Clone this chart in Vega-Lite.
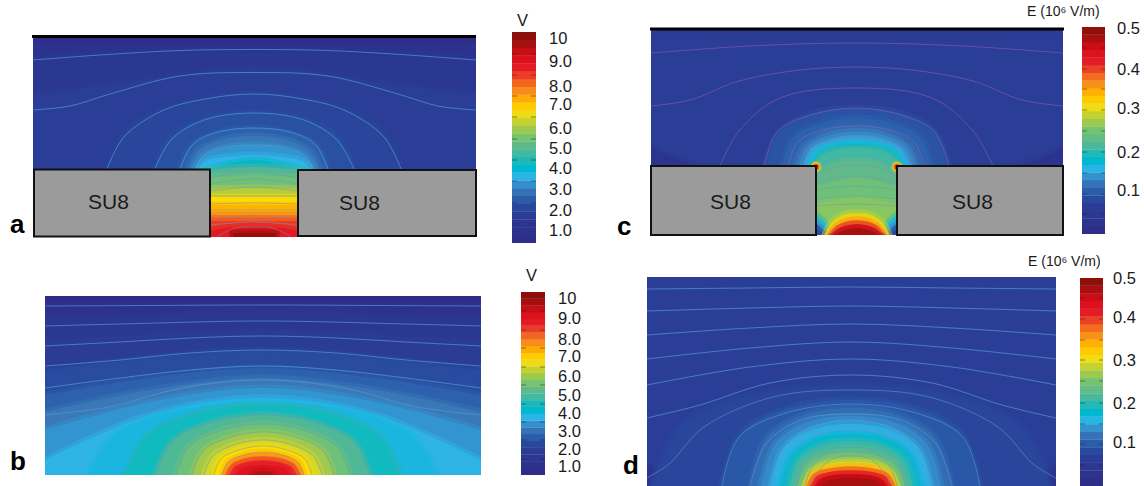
{"$schema":"https://vega.github.io/schema/vega-lite/v6.json","width":1144,"height":486,"padding":0,"autosize":{"type":"none"},"background":"white","config":{"view":{"stroke":null}},
"resolve":{"scale":{"color":"independent","stroke":"independent"}},
"datasets":{
"a":[{"v":0.6,"x":33,"y":37},{"v":0.6,"x":476,"y":37},{"v":1.05,"x":33,"y":44},{"v":1.05,"x":476,"y":44},
{"v":1.5,"x":33,"y":56},{"v":1.5,"x":254,"y":50},{"v":1.5,"x":476,"y":56},
{"v":1.9,"x":33,"y":95},{"v":1.9,"x":110,"y":85},{"v":1.9,"x":254,"y":68},{"v":1.9,"x":398,"y":85},{"v":1.9,"x":476,"y":95},
{"v":2.1,"x":107,"y":169},{"v":2.1,"x":129,"y":128},{"v":2.1,"x":181,"y":104},{"v":2.1,"x":254,"y":94},{"v":2.1,"x":327,"y":104},{"v":2.1,"x":379,"y":128},{"v":2.1,"x":401,"y":169},
{"v":2.3,"x":155,"y":169},{"v":2.3,"x":170,"y":138},{"v":2.3,"x":204,"y":120},{"v":2.3,"x":254,"y":113},{"v":2.3,"x":304,"y":120},{"v":2.3,"x":338,"y":138},{"v":2.3,"x":353,"y":169},
{"v":2.6,"x":180,"y":169},{"v":2.6,"x":191,"y":146},{"v":2.6,"x":217,"y":133},{"v":2.6,"x":254,"y":128},{"v":2.6,"x":291,"y":133},{"v":2.6,"x":317,"y":146},{"v":2.6,"x":328,"y":169},
{"v":3.01,"x":188,"y":169},{"v":3.01,"x":198,"y":151},{"v":3.01,"x":221,"y":140},{"v":3.01,"x":254,"y":136},{"v":3.01,"x":287,"y":140},{"v":3.01,"x":310,"y":151},{"v":3.01,"x":320,"y":169},
{"v":3.3,"x":194,"y":169},{"v":3.3,"x":203,"y":156},{"v":3.3,"x":224,"y":148},{"v":3.3,"x":254,"y":145},{"v":3.3,"x":284,"y":148},{"v":3.3,"x":305,"y":156},{"v":3.3,"x":314,"y":169},
{"v":3.6,"x":198,"y":169},{"v":3.6,"x":206,"y":161},{"v":3.6,"x":226,"y":157},{"v":3.6,"x":254,"y":155},{"v":3.6,"x":282,"y":157},{"v":3.6,"x":302,"y":161},{"v":3.6,"x":310,"y":169},
{"v":4.2,"x":200,"y":172},{"v":4.2,"x":254,"y":160},{"v":4.2,"x":308,"y":172},
{"v":4.9,"x":205,"y":170},{"v":4.9,"x":254,"y":167},{"v":4.9,"x":303,"y":170},
{"v":5.4,"x":205,"y":178},{"v":5.4,"x":254,"y":175},{"v":5.4,"x":303,"y":178},
{"v":6.1,"x":205,"y":189},{"v":6.1,"x":254,"y":188},{"v":6.1,"x":303,"y":189},
{"v":6.8,"x":205,"y":197},{"v":6.8,"x":303,"y":197},
{"v":7.3,"x":205,"y":205},{"v":7.3,"x":303,"y":205},
{"v":8.01,"x":205,"y":215},{"v":8.01,"x":303,"y":215},
{"v":8.5,"x":205,"y":221},{"v":8.5,"x":303,"y":221},
{"v":8.9,"x":205,"y":232},{"v":8.9,"x":225,"y":228},{"v":8.9,"x":254,"y":226},{"v":8.9,"x":283,"y":228},{"v":8.9,"x":303,"y":232},
{"v":9.6,"x":233,"y":234},{"v":9.6,"x":254,"y":231},{"v":9.6,"x":276,"y":234},
{"v":10.2,"x":233,"y":233},{"v":10.2,"x":276,"y":233}],
"b":[{"v":0.6,"x":45,"y":296},{"v":0.6,"x":481,"y":296},{"v":1.05,"x":45,"y":302},{"v":1.05,"x":481,"y":302},
{"v":1.4,"x":45,"y":318},{"v":1.4,"x":150,"y":315},{"v":1.4,"x":263,"y":312},{"v":1.4,"x":376,"y":315},{"v":1.4,"x":481,"y":318},
{"v":1.8,"x":45,"y":340},{"v":1.8,"x":150,"y":335},{"v":1.8,"x":263,"y":330},{"v":1.8,"x":376,"y":335},{"v":1.8,"x":481,"y":340},
{"v":2.2,"x":45,"y":370},{"v":2.2,"x":150,"y":358},{"v":2.2,"x":263,"y":350},{"v":2.2,"x":376,"y":358},{"v":2.2,"x":481,"y":370},
{"v":2.6,"x":45,"y":395},{"v":2.6,"x":150,"y":378},{"v":2.6,"x":263,"y":368},{"v":2.6,"x":376,"y":378},{"v":2.6,"x":481,"y":395},
{"v":3.01,"x":45,"y":412},{"v":3.01,"x":150,"y":390},{"v":3.01,"x":263,"y":378},{"v":3.01,"x":376,"y":390},{"v":3.01,"x":481,"y":412},
{"v":3.3,"x":45,"y":430},{"v":3.3,"x":150,"y":402},{"v":3.3,"x":263,"y":388},{"v":3.3,"x":376,"y":402},{"v":3.3,"x":481,"y":430},
{"v":3.6,"x":45,"y":460},{"v":3.6,"x":150,"y":415},{"v":3.6,"x":263,"y":398},{"v":3.6,"x":376,"y":415},{"v":3.6,"x":481,"y":460},
{"v":3.75,"x":88,"y":475},{"v":3.75,"x":114,"y":435},{"v":3.75,"x":175,"y":411},{"v":3.75,"x":263,"y":402},{"v":3.75,"x":351,"y":411},{"v":3.75,"x":412,"y":435},{"v":3.75,"x":438,"y":475},
{"v":4.3,"x":125,"y":475},{"v":4.3,"x":146,"y":436},{"v":4.3,"x":194,"y":413},{"v":4.3,"x":263,"y":404},{"v":4.3,"x":332,"y":413},{"v":4.3,"x":380,"y":436},{"v":4.3,"x":401,"y":475},
{"v":4.9,"x":156,"y":475},{"v":4.9,"x":172,"y":442},{"v":4.9,"x":210,"y":423},{"v":4.9,"x":263,"y":415},{"v":4.9,"x":316,"y":423},{"v":4.9,"x":354,"y":442},{"v":4.9,"x":370,"y":475},
{"v":5.4,"x":176,"y":475},{"v":5.4,"x":189,"y":447},{"v":5.4,"x":220,"y":431},{"v":5.4,"x":263,"y":424},{"v":5.4,"x":306,"y":431},{"v":5.4,"x":337,"y":447},{"v":5.4,"x":350,"y":475},
{"v":5.9,"x":192,"y":475},{"v":5.9,"x":203,"y":451},{"v":5.9,"x":228,"y":438},{"v":5.9,"x":263,"y":432},{"v":5.9,"x":298,"y":438},{"v":5.9,"x":323,"y":451},{"v":5.9,"x":334,"y":475},
{"v":6.4,"x":204,"y":475},{"v":6.4,"x":213,"y":456},{"v":6.4,"x":234,"y":445},{"v":6.4,"x":263,"y":440},{"v":6.4,"x":292,"y":445},{"v":6.4,"x":313,"y":456},{"v":6.4,"x":322,"y":475},
{"v":6.8,"x":214,"y":475},{"v":6.8,"x":221,"y":459},{"v":6.8,"x":239,"y":450},{"v":6.8,"x":263,"y":446},{"v":6.8,"x":287,"y":450},{"v":6.8,"x":305,"y":459},{"v":6.8,"x":312,"y":475},
{"v":7.3,"x":222,"y":475},{"v":7.3,"x":228,"y":462},{"v":7.3,"x":243,"y":455},{"v":7.3,"x":263,"y":452},{"v":7.3,"x":283,"y":455},{"v":7.3,"x":298,"y":462},{"v":7.3,"x":304,"y":475},
{"v":7.9,"x":225,"y":475},{"v":7.9,"x":231,"y":464},{"v":7.9,"x":244,"y":458},{"v":7.9,"x":263,"y":456},{"v":7.9,"x":282,"y":458},{"v":7.9,"x":295,"y":464},{"v":7.9,"x":301,"y":475},
{"v":8.6,"x":229,"y":475},{"v":8.6,"x":234,"y":467},{"v":8.6,"x":246,"y":462},{"v":8.6,"x":263,"y":460},{"v":8.6,"x":280,"y":462},{"v":8.6,"x":292,"y":467},{"v":8.6,"x":297,"y":475},
{"v":9.1,"x":236,"y":475},{"v":9.1,"x":240,"y":469},{"v":9.1,"x":250,"y":466},{"v":9.1,"x":263,"y":465},{"v":9.1,"x":276,"y":466},{"v":9.1,"x":286,"y":469},{"v":9.1,"x":290,"y":475},
{"v":9.8,"x":251,"y":475},{"v":9.8,"x":253,"y":473},{"v":9.8,"x":257,"y":472},{"v":9.8,"x":263,"y":471},{"v":9.8,"x":269,"y":472},{"v":9.8,"x":273,"y":473},{"v":9.8,"x":275,"y":475}],
"c":[{"v":0.062,"x":651,"y":29},{"v":0.062,"x":1063,"y":29},{"v":0.07,"x":651,"y":45},{"v":0.07,"x":1063,"y":45},
{"v":0.03,"x":651,"y":148},{"v":0.03,"x":668,"y":156},{"v":0.03,"x":700,"y":167},
{"v":0.031,"x":1015,"y":167},{"v":0.031,"x":1047,"y":156},{"v":0.031,"x":1063,"y":148},
{"v":0.09,"x":765,"y":167},{"v":0.09,"x":779,"y":132},{"v":0.09,"x":811,"y":114},{"v":0.09,"x":857,"y":108},{"v":0.09,"x":903,"y":114},{"v":0.09,"x":935,"y":132},{"v":0.09,"x":949,"y":167},
{"v":0.105,"x":782,"y":167},{"v":0.105,"x":793,"y":138},{"v":0.105,"x":820,"y":124},{"v":0.105,"x":857,"y":118},{"v":0.105,"x":894,"y":124},{"v":0.105,"x":921,"y":138},{"v":0.105,"x":932,"y":167},
{"v":0.125,"x":795,"y":167},{"v":0.125,"x":804,"y":146},{"v":0.125,"x":826,"y":133},{"v":0.125,"x":857,"y":128},{"v":0.125,"x":888,"y":133},{"v":0.125,"x":910,"y":146},{"v":0.125,"x":919,"y":167},
{"v":0.145,"x":802,"y":167},{"v":0.145,"x":810,"y":149},{"v":0.145,"x":829,"y":139},{"v":0.145,"x":857,"y":135},{"v":0.145,"x":885,"y":139},{"v":0.145,"x":904,"y":149},{"v":0.145,"x":912,"y":167},
{"v":0.16,"x":807,"y":167},{"v":0.16,"x":814,"y":152},{"v":0.16,"x":832,"y":143},{"v":0.16,"x":857,"y":140},{"v":0.16,"x":882,"y":143},{"v":0.16,"x":900,"y":152},{"v":0.16,"x":907,"y":167},
{"v":0.19,"x":811,"y":167},{"v":0.19,"x":818,"y":154},{"v":0.19,"x":834,"y":146},{"v":0.19,"x":857,"y":144},{"v":0.19,"x":880,"y":146},{"v":0.19,"x":896,"y":154},{"v":0.19,"x":903,"y":167},
{"v":0.215,"x":815,"y":167},{"v":0.215,"x":821,"y":156},{"v":0.215,"x":836,"y":150},{"v":0.215,"x":857,"y":148},{"v":0.215,"x":878,"y":150},{"v":0.215,"x":893,"y":156},{"v":0.215,"x":899,"y":167},
{"v":0.235,"x":814,"y":175},{"v":0.235,"x":835,"y":163},{"v":0.235,"x":857,"y":160},{"v":0.235,"x":878,"y":163},{"v":0.235,"x":899,"y":175},
{"v":0.25,"x":814,"y":188},{"v":0.25,"x":857,"y":178},{"v":0.25,"x":899,"y":188},
{"v":0.265,"x":814,"y":205},{"v":0.265,"x":857,"y":198},{"v":0.265,"x":899,"y":205},
{"v":0.2,"x":816,"y":215},{"v":0.2,"x":824,"y":222},{"v":0.2,"x":834,"y":235},
{"v":0.201,"x":879,"y":235},{"v":0.201,"x":889,"y":222},{"v":0.201,"x":897,"y":215},
{"v":0.157,"x":816,"y":220},{"v":0.157,"x":824,"y":226},{"v":0.157,"x":832,"y":235},
{"v":0.158,"x":881,"y":235},{"v":0.158,"x":889,"y":226},{"v":0.158,"x":897,"y":220},
{"v":0.12,"x":816,"y":224},{"v":0.12,"x":822,"y":229},{"v":0.12,"x":829,"y":235},
{"v":0.121,"x":884,"y":235},{"v":0.121,"x":891,"y":229},{"v":0.121,"x":897,"y":224},
{"v":0.08,"x":816,"y":228},{"v":0.08,"x":821,"y":232},{"v":0.08,"x":826,"y":235},
{"v":0.081,"x":887,"y":235},{"v":0.081,"x":892,"y":232},{"v":0.081,"x":897,"y":228},
{"v":0.3,"x":825,"y":235},{"v":0.3,"x":832,"y":222},{"v":0.3,"x":845,"y":214},{"v":0.3,"x":857,"y":213},{"v":0.3,"x":869,"y":214},{"v":0.3,"x":882,"y":222},{"v":0.3,"x":889,"y":235},
{"v":0.33,"x":828,"y":235},{"v":0.33,"x":835,"y":224},{"v":0.33,"x":846,"y":218},{"v":0.33,"x":857,"y":217},{"v":0.33,"x":868,"y":218},{"v":0.33,"x":879,"y":224},{"v":0.33,"x":886,"y":235},
{"v":0.38,"x":830,"y":235},{"v":0.38,"x":837,"y":226},{"v":0.38,"x":847,"y":221},{"v":0.38,"x":857,"y":220},{"v":0.38,"x":867,"y":221},{"v":0.38,"x":877,"y":226},{"v":0.38,"x":884,"y":235},
{"v":0.43,"x":832,"y":235},{"v":0.43,"x":839,"y":228},{"v":0.43,"x":848,"y":225},{"v":0.43,"x":857,"y":224},{"v":0.43,"x":866,"y":225},{"v":0.43,"x":875,"y":228},{"v":0.43,"x":882,"y":235},
{"v":0.49,"x":835,"y":235},{"v":0.49,"x":842,"y":231},{"v":0.49,"x":850,"y":229},{"v":0.49,"x":857,"y":228},{"v":0.49,"x":864,"y":229},{"v":0.49,"x":872,"y":231},{"v":0.49,"x":879,"y":235}],
"d":[{"v":0.07,"x":647,"y":277},{"v":0.07,"x":1056,"y":277},
{"v":0.03,"x":647,"y":465},{"v":0.03,"x":660,"y":475},{"v":0.03,"x":680,"y":486},
{"v":0.031,"x":1023,"y":486},{"v":0.031,"x":1043,"y":475},{"v":0.031,"x":1056,"y":465},
{"v":0.077,"x":651,"y":486},{"v":0.077,"x":681,"y":425},{"v":0.077,"x":751,"y":395},{"v":0.077,"x":851,"y":385},{"v":0.077,"x":951,"y":395},{"v":0.077,"x":1021,"y":425},{"v":0.077,"x":1051,"y":486},
{"v":0.095,"x":722,"y":486},{"v":0.095,"x":741,"y":434},{"v":0.095,"x":786,"y":409},{"v":0.095,"x":851,"y":400},{"v":0.095,"x":916,"y":409},{"v":0.095,"x":961,"y":434},{"v":0.095,"x":980,"y":486},
{"v":0.115,"x":751,"y":486},{"v":0.115,"x":766,"y":439},{"v":0.115,"x":801,"y":416},{"v":0.115,"x":851,"y":408},{"v":0.115,"x":901,"y":416},{"v":0.115,"x":936,"y":439},{"v":0.115,"x":951,"y":486},
{"v":0.135,"x":761,"y":486},{"v":0.135,"x":775,"y":444},{"v":0.135,"x":806,"y":423},{"v":0.135,"x":851,"y":416},{"v":0.135,"x":896,"y":423},{"v":0.135,"x":927,"y":444},{"v":0.135,"x":941,"y":486},
{"v":0.155,"x":771,"y":486},{"v":0.155,"x":783,"y":449},{"v":0.155,"x":811,"y":430},{"v":0.155,"x":851,"y":424},{"v":0.155,"x":891,"y":430},{"v":0.155,"x":919,"y":449},{"v":0.155,"x":931,"y":486},
{"v":0.18,"x":781,"y":486},{"v":0.18,"x":792,"y":455},{"v":0.18,"x":816,"y":439},{"v":0.18,"x":851,"y":434},{"v":0.18,"x":886,"y":439},{"v":0.18,"x":910,"y":455},{"v":0.18,"x":921,"y":486},
{"v":0.21,"x":789,"y":486},{"v":0.21,"x":798,"y":459},{"v":0.21,"x":820,"y":445},{"v":0.21,"x":851,"y":441},{"v":0.21,"x":882,"y":445},{"v":0.21,"x":904,"y":459},{"v":0.21,"x":913,"y":486},
{"v":0.23,"x":794,"y":486},{"v":0.23,"x":803,"y":463},{"v":0.23,"x":822,"y":452},{"v":0.23,"x":851,"y":448},{"v":0.23,"x":880,"y":452},{"v":0.23,"x":899,"y":463},{"v":0.23,"x":908,"y":486},
{"v":0.27,"x":801,"y":486},{"v":0.27,"x":809,"y":468},{"v":0.27,"x":826,"y":459},{"v":0.27,"x":851,"y":456},{"v":0.27,"x":876,"y":459},{"v":0.27,"x":893,"y":468},{"v":0.27,"x":901,"y":486},
{"v":0.31,"x":805,"y":486},{"v":0.31,"x":812,"y":472},{"v":0.31,"x":828,"y":464},{"v":0.31,"x":851,"y":462},{"v":0.31,"x":874,"y":464},{"v":0.31,"x":890,"y":472},{"v":0.31,"x":897,"y":486},
{"v":0.36,"x":807,"y":486},{"v":0.36,"x":814,"y":474},{"v":0.36,"x":829,"y":468},{"v":0.36,"x":851,"y":466},{"v":0.36,"x":873,"y":468},{"v":0.36,"x":888,"y":474},{"v":0.36,"x":895,"y":486},
{"v":0.41,"x":810,"y":486},{"v":0.41,"x":816,"y":476},{"v":0.41,"x":830,"y":472},{"v":0.41,"x":851,"y":470},{"v":0.41,"x":872,"y":472},{"v":0.41,"x":886,"y":476},{"v":0.41,"x":892,"y":486},
{"v":0.46,"x":814,"y":486},{"v":0.46,"x":820,"y":479},{"v":0.46,"x":832,"y":475},{"v":0.46,"x":851,"y":474},{"v":0.46,"x":870,"y":475},{"v":0.46,"x":882,"y":479},{"v":0.46,"x":888,"y":486},
{"v":0.49,"x":821,"y":486},{"v":0.49,"x":826,"y":481},{"v":0.49,"x":836,"y":479},{"v":0.49,"x":851,"y":478},{"v":0.49,"x":866,"y":479},{"v":0.49,"x":876,"y":481},{"v":0.49,"x":881,"y":486}],
"hot":[{"x":816,"y":167,"v":0.25,"s":170},{"x":897,"y":167,"v":0.251,"s":170},{"x":816,"y":167,"v":0.33,"s":90},{"x":897,"y":167,"v":0.331,"s":90},{"x":816,"y":167,"v":0.39,"s":50},{"x":897,"y":167,"v":0.391,"s":50},{"x":816,"y":167,"v":0.47,"s":20},{"x":897,"y":167,"v":0.471,"s":20}],
"mask":[{"x":27,"x2":33,"y":30,"y2":242},{"x":476,"x2":482,"y":30,"y2":242},{"x":27,"x2":482,"y":237,"y2":242},{"x":27,"x2":482,"y":30,"y2":35.5},
{"x":39,"x2":45,"y":290,"y2":481},{"x":481,"x2":487,"y":290,"y2":481},{"x":39,"x2":487,"y":290,"y2":296},{"x":39,"x2":487,"y":475,"y2":481},
{"x":645,"x2":651,"y":22,"y2":241},{"x":1063,"x2":1069,"y":22,"y2":241},{"x":645,"x2":1069,"y":235,"y2":241},{"x":645,"x2":1069,"y":22,"y2":28},
{"x":641,"x2":647,"y":271,"y2":486},{"x":1056,"x2":1062,"y":271,"y2":486},{"x":641,"x2":1062,"y":271,"y2":277}],
"lines":[
{"id":"a1","k":"c","x":33,"y":60},{"id":"a1","k":"c","x":100,"y":55},{"id":"a1","k":"c","x":180,"y":50.5},{"id":"a1","k":"c","x":254,"y":49.5},{"id":"a1","k":"c","x":328,"y":50.5},{"id":"a1","k":"c","x":408,"y":55},{"id":"a1","k":"c","x":476,"y":60},
{"id":"a2","k":"c","x":33,"y":110},{"id":"a2","k":"c","x":70,"y":106},{"id":"a2","k":"c","x":110,"y":94},{"id":"a2","k":"c","x":180,"y":76},{"id":"a2","k":"c","x":254,"y":72.5},{"id":"a2","k":"c","x":328,"y":76},{"id":"a2","k":"c","x":398,"y":94},{"id":"a2","k":"c","x":438,"y":106},{"id":"a2","k":"c","x":476,"y":110},
{"id":"a3","k":"c","x":107,"y":169},{"id":"a3","k":"c","x":124,"y":137},{"id":"a3","k":"c","x":164,"y":110},{"id":"a3","k":"c","x":211,"y":98},{"id":"a3","k":"c","x":254,"y":94},{"id":"a3","k":"c","x":297,"y":98},{"id":"a3","k":"c","x":344,"y":110},{"id":"a3","k":"c","x":384,"y":137},{"id":"a3","k":"c","x":401,"y":169},
{"id":"a4","k":"c","x":155,"y":169},{"id":"a4","k":"c","x":171,"y":140},{"id":"a4","k":"c","x":204,"y":120},{"id":"a4","k":"c","x":254,"y":113},{"id":"a4","k":"c","x":304,"y":120},{"id":"a4","k":"c","x":337,"y":140},{"id":"a4","k":"c","x":354,"y":169},
{"id":"a5","k":"c","x":180,"y":169},{"id":"a5","k":"c","x":193,"y":144},{"id":"a5","k":"c","x":218,"y":132},{"id":"a5","k":"c","x":254,"y":128},{"id":"a5","k":"c","x":290,"y":132},{"id":"a5","k":"c","x":315,"y":144},{"id":"a5","k":"c","x":328,"y":169},
{"id":"a6","k":"q","x":196,"y":167},{"id":"a6","k":"q","x":204,"y":155},{"id":"a6","k":"q","x":225,"y":147},{"id":"a6","k":"q","x":254,"y":145},{"id":"a6","k":"q","x":283,"y":147},{"id":"a6","k":"q","x":304,"y":155},{"id":"a6","k":"q","x":313,"y":167},
{"id":"a7","k":"g","x":210,"y":172},{"id":"a7","k":"g","x":254,"y":165},{"id":"a7","k":"g","x":298,"y":172},
{"id":"a8","k":"g","x":210,"y":178},{"id":"a8","k":"g","x":254,"y":172},{"id":"a8","k":"g","x":298,"y":178},
{"id":"a9","k":"g","x":210,"y":184},{"id":"a9","k":"g","x":254,"y":179},{"id":"a9","k":"g","x":298,"y":184},
{"id":"a10","k":"g","x":210,"y":191},{"id":"a10","k":"g","x":254,"y":187},{"id":"a10","k":"g","x":298,"y":191},
{"id":"a11","k":"g","x":210,"y":196},{"id":"a11","k":"g","x":298,"y":196},
{"id":"a12","k":"g","x":210,"y":204},{"id":"a12","k":"g","x":254,"y":203},{"id":"a12","k":"g","x":298,"y":204},
{"id":"a13","k":"g","x":210,"y":210},{"id":"a13","k":"g","x":298,"y":210},
{"id":"a14","k":"g","x":210,"y":218},{"id":"a14","k":"g","x":254,"y":216},{"id":"a14","k":"g","x":298,"y":218},
{"id":"a15","k":"g","x":210,"y":225},{"id":"a15","k":"g","x":254,"y":222},{"id":"a15","k":"g","x":298,"y":225},
{"id":"a16","k":"g","x":218,"y":236},{"id":"a16","k":"g","x":235,"y":228},{"id":"a16","k":"g","x":254,"y":227},{"id":"a16","k":"g","x":273,"y":228},{"id":"a16","k":"g","x":290,"y":236},
{"id":"b1","k":"c","x":45,"y":306},{"id":"b1","k":"c","x":150,"y":305.5},{"id":"b1","k":"c","x":263,"y":305},{"id":"b1","k":"c","x":376,"y":305.5},{"id":"b1","k":"c","x":481,"y":306},
{"id":"b2","k":"c","x":45,"y":326},{"id":"b2","k":"c","x":120,"y":324},{"id":"b2","k":"c","x":263,"y":321},{"id":"b2","k":"c","x":406,"y":324},{"id":"b2","k":"c","x":481,"y":326},
{"id":"b3","k":"c","x":45,"y":346},{"id":"b3","k":"c","x":120,"y":342},{"id":"b3","k":"c","x":190,"y":338},{"id":"b3","k":"c","x":263,"y":336},{"id":"b3","k":"c","x":336,"y":338},{"id":"b3","k":"c","x":406,"y":342},{"id":"b3","k":"c","x":481,"y":346},
{"id":"b4","k":"c","x":45,"y":366},{"id":"b4","k":"c","x":120,"y":360},{"id":"b4","k":"c","x":190,"y":353},{"id":"b4","k":"c","x":263,"y":350},{"id":"b4","k":"c","x":336,"y":353},{"id":"b4","k":"c","x":406,"y":360},{"id":"b4","k":"c","x":481,"y":366},
{"id":"b5","k":"c","x":45,"y":388},{"id":"b5","k":"c","x":120,"y":378},{"id":"b5","k":"c","x":190,"y":370},{"id":"b5","k":"c","x":263,"y":366},{"id":"b5","k":"c","x":336,"y":370},{"id":"b5","k":"c","x":406,"y":378},{"id":"b5","k":"c","x":481,"y":388},
{"id":"b6","k":"q","x":45,"y":415},{"id":"b6","k":"q","x":109,"y":407},{"id":"b6","k":"q","x":182,"y":388},{"id":"b6","k":"q","x":263,"y":380},{"id":"b6","k":"q","x":344,"y":388},{"id":"b6","k":"q","x":417,"y":407},{"id":"b6","k":"q","x":481,"y":415},
{"id":"b7","k":"g","x":125,"y":475},{"id":"b7","k":"g","x":146,"y":436},{"id":"b7","k":"g","x":194,"y":413},{"id":"b7","k":"g","x":263,"y":404},{"id":"b7","k":"g","x":332,"y":413},{"id":"b7","k":"g","x":380,"y":436},{"id":"b7","k":"g","x":401,"y":475},
{"id":"b8","k":"g","x":156,"y":475},{"id":"b8","k":"g","x":172,"y":442},{"id":"b8","k":"g","x":210,"y":423},{"id":"b8","k":"g","x":263,"y":415},{"id":"b8","k":"g","x":316,"y":423},{"id":"b8","k":"g","x":354,"y":442},{"id":"b8","k":"g","x":370,"y":475},
{"id":"b9","k":"g","x":176,"y":475},{"id":"b9","k":"g","x":189,"y":447},{"id":"b9","k":"g","x":220,"y":431},{"id":"b9","k":"g","x":263,"y":424},{"id":"b9","k":"g","x":306,"y":431},{"id":"b9","k":"g","x":337,"y":447},{"id":"b9","k":"g","x":350,"y":475},
{"id":"b10","k":"g","x":192,"y":475},{"id":"b10","k":"g","x":203,"y":451},{"id":"b10","k":"g","x":228,"y":438},{"id":"b10","k":"g","x":263,"y":432},{"id":"b10","k":"g","x":298,"y":438},{"id":"b10","k":"g","x":323,"y":451},{"id":"b10","k":"g","x":334,"y":475},
{"id":"b11","k":"g","x":204,"y":475},{"id":"b11","k":"g","x":213,"y":456},{"id":"b11","k":"g","x":234,"y":445},{"id":"b11","k":"g","x":263,"y":440},{"id":"b11","k":"g","x":292,"y":445},{"id":"b11","k":"g","x":313,"y":456},{"id":"b11","k":"g","x":322,"y":475},
{"id":"b12","k":"g","x":214,"y":475},{"id":"b12","k":"g","x":221,"y":459},{"id":"b12","k":"g","x":239,"y":450},{"id":"b12","k":"g","x":263,"y":446},{"id":"b12","k":"g","x":287,"y":450},{"id":"b12","k":"g","x":305,"y":459},{"id":"b12","k":"g","x":312,"y":475},
{"id":"b13","k":"g","x":222,"y":475},{"id":"b13","k":"g","x":228,"y":462},{"id":"b13","k":"g","x":243,"y":455},{"id":"b13","k":"g","x":263,"y":452},{"id":"b13","k":"g","x":283,"y":455},{"id":"b13","k":"g","x":298,"y":462},{"id":"b13","k":"g","x":304,"y":475},
{"id":"c1","k":"p","x":651,"y":53},{"id":"c1","k":"p","x":750,"y":46},{"id":"c1","k":"p","x":856,"y":43},{"id":"c1","k":"p","x":962,"y":46},{"id":"c1","k":"p","x":1063,"y":53},
{"id":"c2","k":"p","x":651,"y":106},{"id":"c2","k":"p","x":690,"y":100},{"id":"c2","k":"p","x":739,"y":81},{"id":"c2","k":"p","x":800,"y":70},{"id":"c2","k":"p","x":856,"y":67},{"id":"c2","k":"p","x":912,"y":70},{"id":"c2","k":"p","x":973,"y":81},{"id":"c2","k":"p","x":1022,"y":100},{"id":"c2","k":"p","x":1063,"y":106},
{"id":"c3","k":"p","x":720,"y":166},{"id":"c3","k":"p","x":739,"y":131},{"id":"c3","k":"p","x":780,"y":98},{"id":"c3","k":"p","x":856,"y":88},{"id":"c3","k":"p","x":932,"y":98},{"id":"c3","k":"p","x":973,"y":131},{"id":"c3","k":"p","x":993,"y":166},
{"id":"c4","k":"p","x":764,"y":166},{"id":"c4","k":"p","x":778,"y":131},{"id":"c4","k":"p","x":811,"y":115},{"id":"c4","k":"p","x":856,"y":108},{"id":"c4","k":"p","x":901,"y":115},{"id":"c4","k":"p","x":934,"y":131},{"id":"c4","k":"p","x":949,"y":166},
{"id":"c5","k":"p","x":788,"y":166},{"id":"c5","k":"p","x":798,"y":142},{"id":"c5","k":"p","x":822,"y":130},{"id":"c5","k":"p","x":856,"y":126},{"id":"c5","k":"p","x":890,"y":130},{"id":"c5","k":"p","x":914,"y":142},{"id":"c5","k":"p","x":924,"y":166},
{"id":"c6","k":"p","x":803,"y":166},{"id":"c6","k":"p","x":811,"y":148},{"id":"c6","k":"p","x":830,"y":140},{"id":"c6","k":"p","x":856,"y":137},{"id":"c6","k":"p","x":882,"y":140},{"id":"c6","k":"p","x":901,"y":148},{"id":"c6","k":"p","x":910,"y":166},
{"id":"c7","k":"g","x":810,"y":165},{"id":"c7","k":"g","x":830,"y":150},{"id":"c7","k":"g","x":856,"y":147},{"id":"c7","k":"g","x":882,"y":150},{"id":"c7","k":"g","x":902,"y":165},
{"id":"c8","k":"g","x":812,"y":170},{"id":"c8","k":"g","x":835,"y":159},{"id":"c8","k":"g","x":856,"y":156},{"id":"c8","k":"g","x":877,"y":159},{"id":"c8","k":"g","x":900,"y":170},
{"id":"c9","k":"g","x":816,"y":176},{"id":"c9","k":"g","x":835,"y":167},{"id":"c9","k":"g","x":856,"y":165},{"id":"c9","k":"g","x":877,"y":167},{"id":"c9","k":"g","x":897,"y":176},
{"id":"c10","k":"g","x":816,"y":184},{"id":"c10","k":"g","x":856,"y":176},{"id":"c10","k":"g","x":897,"y":184},
{"id":"c11","k":"g","x":816,"y":190},{"id":"c11","k":"g","x":856,"y":186},{"id":"c11","k":"g","x":897,"y":190},
{"id":"c12","k":"g","x":816,"y":199},{"id":"c12","k":"g","x":856,"y":196},{"id":"c12","k":"g","x":897,"y":199},
{"id":"c13","k":"g","x":816,"y":206},{"id":"c13","k":"g","x":856,"y":204},{"id":"c13","k":"g","x":897,"y":206},
{"id":"d1","k":"c","x":647,"y":289},{"id":"d1","k":"c","x":750,"y":288},{"id":"d1","k":"c","x":851,"y":287},{"id":"d1","k":"c","x":952,"y":288},{"id":"d1","k":"c","x":1056,"y":289},
{"id":"d2","k":"c","x":647,"y":311},{"id":"d2","k":"c","x":750,"y":308},{"id":"d2","k":"c","x":851,"y":306},{"id":"d2","k":"c","x":952,"y":308},{"id":"d2","k":"c","x":1056,"y":311},
{"id":"d3","k":"c","x":647,"y":335},{"id":"d3","k":"c","x":750,"y":328},{"id":"d3","k":"c","x":851,"y":324},{"id":"d3","k":"c","x":952,"y":328},{"id":"d3","k":"c","x":1056,"y":335},
{"id":"d4","k":"c","x":647,"y":359},{"id":"d4","k":"c","x":750,"y":348},{"id":"d4","k":"c","x":851,"y":342},{"id":"d4","k":"c","x":952,"y":348},{"id":"d4","k":"c","x":1056,"y":359},
{"id":"d5","k":"c","x":647,"y":385},{"id":"d5","k":"c","x":750,"y":367},{"id":"d5","k":"c","x":851,"y":359},{"id":"d5","k":"c","x":952,"y":367},{"id":"d5","k":"c","x":1056,"y":385},
{"id":"d6","k":"c","x":647,"y":418},{"id":"d6","k":"c","x":700,"y":405},{"id":"d6","k":"c","x":770,"y":383},{"id":"d6","k":"c","x":851,"y":375},{"id":"d6","k":"c","x":932,"y":383},{"id":"d6","k":"c","x":1002,"y":405},{"id":"d6","k":"c","x":1056,"y":418},
{"id":"d7","k":"q","x":647,"y":478},{"id":"d7","k":"q","x":669,"y":464},{"id":"d7","k":"q","x":704,"y":427},{"id":"d7","k":"q","x":773,"y":397},{"id":"d7","k":"q","x":851,"y":390},{"id":"d7","k":"q","x":929,"y":397},{"id":"d7","k":"q","x":998,"y":427},{"id":"d7","k":"q","x":1033,"y":464},{"id":"d7","k":"q","x":1056,"y":478},
{"id":"d8","k":"q","x":722,"y":486},{"id":"d8","k":"q","x":739,"y":437},{"id":"d8","k":"q","x":786,"y":413},{"id":"d8","k":"q","x":851,"y":404},{"id":"d8","k":"q","x":916,"y":413},{"id":"d8","k":"q","x":963,"y":437},{"id":"d8","k":"q","x":980,"y":486},
{"id":"d9","k":"q","x":750,"y":486},{"id":"d9","k":"q","x":766,"y":444},{"id":"d9","k":"q","x":801,"y":420},{"id":"d9","k":"q","x":851,"y":414},{"id":"d9","k":"q","x":901,"y":420},{"id":"d9","k":"q","x":936,"y":444},{"id":"d9","k":"q","x":952,"y":486},
{"id":"d10","k":"q","x":770,"y":486},{"id":"d10","k":"q","x":783,"y":450},{"id":"d10","k":"q","x":811,"y":428},{"id":"d10","k":"q","x":851,"y":420},{"id":"d10","k":"q","x":891,"y":428},{"id":"d10","k":"q","x":919,"y":450},{"id":"d10","k":"q","x":932,"y":486},
{"id":"d11","k":"g","x":784,"y":486},{"id":"d11","k":"g","x":795,"y":455},{"id":"d11","k":"g","x":818,"y":435},{"id":"d11","k":"g","x":851,"y":429},{"id":"d11","k":"g","x":884,"y":435},{"id":"d11","k":"g","x":907,"y":455},{"id":"d11","k":"g","x":918,"y":486},
{"id":"d12","k":"g","x":796,"y":486},{"id":"d12","k":"g","x":805,"y":460},{"id":"d12","k":"g","x":824,"y":444},{"id":"d12","k":"g","x":851,"y":438},{"id":"d12","k":"g","x":878,"y":444},{"id":"d12","k":"g","x":897,"y":460},{"id":"d12","k":"g","x":906,"y":486},
{"id":"d13","k":"g","x":805,"y":486},{"id":"d13","k":"g","x":812,"y":467},{"id":"d13","k":"g","x":828,"y":451},{"id":"d13","k":"g","x":851,"y":447},{"id":"d13","k":"g","x":874,"y":451},{"id":"d13","k":"g","x":890,"y":467},{"id":"d13","k":"g","x":897,"y":486},
{"id":"d14","k":"g","x":811,"y":486},{"id":"d14","k":"g","x":818,"y":472},{"id":"d14","k":"g","x":832,"y":459},{"id":"d14","k":"g","x":851,"y":456},{"id":"d14","k":"g","x":870,"y":459},{"id":"d14","k":"g","x":884,"y":472},{"id":"d14","k":"g","x":891,"y":486}],
"barV":[{"x":512,"x2":536,"y":243,"y2":234.9,"v":0.63},{"x":512,"x2":536,"y":235.2,"y2":227.1,"v":1.0},{"x":512,"x2":536,"y":227.4,"y2":219.3,"v":1.38},{"x":512,"x2":536,"y":219.6,"y2":211.5,"v":1.75},{"x":512,"x2":536,"y":211.8,"y2":203.7,"v":2.13},{"x":512,"x2":536,"y":204,"y2":195.9,"v":2.5},{"x":512,"x2":536,"y":196.2,"y2":188.1,"v":2.88},{"x":512,"x2":536,"y":188.4,"y2":180.3,"v":3.25},{"x":512,"x2":536,"y":180.6,"y2":172.5,"v":3.63},{"x":512,"x2":536,"y":172.8,"y2":164.7,"v":4.0},{"x":512,"x2":536,"y":165,"y2":156.9,"v":4.38},{"x":512,"x2":536,"y":157.2,"y2":149.1,"v":4.75},{"x":512,"x2":536,"y":149.4,"y2":141.3,"v":5.13},{"x":512,"x2":536,"y":141.6,"y2":133.5,"v":5.5},{"x":512,"x2":536,"y":133.8,"y2":125.7,"v":5.88},{"x":512,"x2":536,"y":126,"y2":117.9,"v":6.25},{"x":512,"x2":536,"y":118.2,"y2":110.1,"v":6.63},{"x":512,"x2":536,"y":110.4,"y2":102.3,"v":7.0},{"x":512,"x2":536,"y":102.6,"y2":94.5,"v":7.38},{"x":512,"x2":536,"y":94.8,"y2":86.7,"v":7.75},{"x":512,"x2":536,"y":87,"y2":78.9,"v":8.13},{"x":512,"x2":536,"y":79.2,"y2":71.1,"v":8.5},{"x":512,"x2":536,"y":71.4,"y2":63.3,"v":8.88},{"x":512,"x2":536,"y":63.6,"y2":55.5,"v":9.25},{"x":512,"x2":536,"y":55.8,"y2":47.7,"v":9.63},{"x":512,"x2":536,"y":48,"y2":39.9,"v":10},{"x":512,"x2":536,"y":40.2,"y2":32,"v":10.3},
{"x":521,"x2":545,"y":475,"y2":467.9,"v":0.63},{"x":521,"x2":545,"y":468.2,"y2":461.1,"v":1.0},{"x":521,"x2":545,"y":461.4,"y2":454.4,"v":1.38},{"x":521,"x2":545,"y":454.7,"y2":447.6,"v":1.75},{"x":521,"x2":545,"y":447.9,"y2":440.8,"v":2.13},{"x":521,"x2":545,"y":441.1,"y2":434,"v":2.5},{"x":521,"x2":545,"y":434.3,"y2":427.3,"v":2.88},{"x":521,"x2":545,"y":427.6,"y2":420.5,"v":3.25},{"x":521,"x2":545,"y":420.8,"y2":413.7,"v":3.63},{"x":521,"x2":545,"y":414,"y2":406.9,"v":4.0},{"x":521,"x2":545,"y":407.2,"y2":400.1,"v":4.38},{"x":521,"x2":545,"y":400.4,"y2":393.3,"v":4.75},{"x":521,"x2":545,"y":393.6,"y2":386.6,"v":5.13},{"x":521,"x2":545,"y":386.9,"y2":379.8,"v":5.5},{"x":521,"x2":545,"y":380.1,"y2":373,"v":5.88},{"x":521,"x2":545,"y":373.3,"y2":366.2,"v":6.25},{"x":521,"x2":545,"y":366.5,"y2":359.4,"v":6.63},{"x":521,"x2":545,"y":359.7,"y2":352.7,"v":7.0},{"x":521,"x2":545,"y":353,"y2":345.9,"v":7.38},{"x":521,"x2":545,"y":346.2,"y2":339.1,"v":7.75},{"x":521,"x2":545,"y":339.4,"y2":332.3,"v":8.13},{"x":521,"x2":545,"y":332.6,"y2":325.5,"v":8.5},{"x":521,"x2":545,"y":325.8,"y2":318.8,"v":8.88},{"x":521,"x2":545,"y":319.1,"y2":312,"v":9.25},{"x":521,"x2":545,"y":312.3,"y2":305.2,"v":9.63},{"x":521,"x2":545,"y":305.5,"y2":298.5,"v":10},{"x":521,"x2":545,"y":298.8,"y2":292,"v":10.3}],
"barE":[{"x":1082,"x2":1105,"y":234,"y2":226,"v":0.005},{"x":1082,"x2":1105,"y":226.3,"y2":218.4,"v":0.024},{"x":1082,"x2":1105,"y":218.7,"y2":210.7,"v":0.043},{"x":1082,"x2":1105,"y":211,"y2":203,"v":0.062},{"x":1082,"x2":1105,"y":203.3,"y2":195.4,"v":0.081},{"x":1082,"x2":1105,"y":195.7,"y2":187.7,"v":0.1},{"x":1082,"x2":1105,"y":188,"y2":180,"v":0.12},{"x":1082,"x2":1105,"y":180.3,"y2":172.4,"v":0.14},{"x":1082,"x2":1105,"y":172.7,"y2":164.7,"v":0.16},{"x":1082,"x2":1105,"y":165,"y2":157,"v":0.18},{"x":1082,"x2":1105,"y":157.3,"y2":149.4,"v":0.2},{"x":1082,"x2":1105,"y":149.7,"y2":141.7,"v":0.22},{"x":1082,"x2":1105,"y":142,"y2":134,"v":0.24},{"x":1082,"x2":1105,"y":134.3,"y2":126.4,"v":0.255},{"x":1082,"x2":1105,"y":126.7,"y2":118.7,"v":0.275},{"x":1082,"x2":1105,"y":119,"y2":111,"v":0.295},{"x":1082,"x2":1105,"y":111.3,"y2":103.4,"v":0.315},{"x":1082,"x2":1105,"y":103.7,"y2":95.7,"v":0.335},{"x":1082,"x2":1105,"y":96,"y2":88,"v":0.35},{"x":1082,"x2":1105,"y":88.3,"y2":80.4,"v":0.37},{"x":1082,"x2":1105,"y":80.7,"y2":72.7,"v":0.39},{"x":1082,"x2":1105,"y":73,"y2":65,"v":0.41},{"x":1082,"x2":1105,"y":65.3,"y2":57.4,"v":0.43},{"x":1082,"x2":1105,"y":57.7,"y2":49.7,"v":0.45},{"x":1082,"x2":1105,"y":50,"y2":42,"v":0.47},{"x":1082,"x2":1105,"y":42.3,"y2":34.4,"v":0.49},{"x":1082,"x2":1105,"y":34.7,"y2":27,"v":0.505},
{"x":1080,"x2":1103,"y":486,"y2":478,"v":0.005},{"x":1080,"x2":1103,"y":478.3,"y2":470.3,"v":0.024},{"x":1080,"x2":1103,"y":470.6,"y2":462.6,"v":0.043},{"x":1080,"x2":1103,"y":462.9,"y2":454.9,"v":0.062},{"x":1080,"x2":1103,"y":455.2,"y2":447.2,"v":0.081},{"x":1080,"x2":1103,"y":447.5,"y2":439.5,"v":0.1},{"x":1080,"x2":1103,"y":439.8,"y2":431.8,"v":0.12},{"x":1080,"x2":1103,"y":432.1,"y2":424.1,"v":0.14},{"x":1080,"x2":1103,"y":424.4,"y2":416.4,"v":0.16},{"x":1080,"x2":1103,"y":416.7,"y2":408.7,"v":0.18},{"x":1080,"x2":1103,"y":409,"y2":401,"v":0.2},{"x":1080,"x2":1103,"y":401.3,"y2":393.3,"v":0.22},{"x":1080,"x2":1103,"y":393.6,"y2":385.6,"v":0.24},{"x":1080,"x2":1103,"y":385.9,"y2":377.9,"v":0.255},{"x":1080,"x2":1103,"y":378.2,"y2":370.2,"v":0.275},{"x":1080,"x2":1103,"y":370.5,"y2":362.5,"v":0.295},{"x":1080,"x2":1103,"y":362.8,"y2":354.8,"v":0.315},{"x":1080,"x2":1103,"y":355.1,"y2":347.1,"v":0.335},{"x":1080,"x2":1103,"y":347.4,"y2":339.4,"v":0.35},{"x":1080,"x2":1103,"y":339.7,"y2":331.7,"v":0.37},{"x":1080,"x2":1103,"y":332,"y2":324,"v":0.39},{"x":1080,"x2":1103,"y":324.3,"y2":316.3,"v":0.41},{"x":1080,"x2":1103,"y":316.6,"y2":308.6,"v":0.43},{"x":1080,"x2":1103,"y":308.9,"y2":300.9,"v":0.45},{"x":1080,"x2":1103,"y":301.2,"y2":293.2,"v":0.47},{"x":1080,"x2":1103,"y":293.5,"y2":285.5,"v":0.49},{"x":1080,"x2":1103,"y":285.8,"y2":278,"v":0.505}],
"ticks":[{"x":512,"x2":536,"y":54},{"x":512,"x2":536,"y":75},{"x":512,"x2":536,"y":96},{"x":512,"x2":536,"y":117},{"x":512,"x2":536,"y":139},{"x":512,"x2":536,"y":160},{"x":512,"x2":536,"y":181},{"x":512,"x2":536,"y":203},{"x":512,"x2":536,"y":224},
{"x":521,"x2":545,"y":311},{"x":521,"x2":545,"y":330},{"x":521,"x2":545,"y":348},{"x":521,"x2":545,"y":367},{"x":521,"x2":545,"y":385},{"x":521,"x2":545,"y":404},{"x":521,"x2":545,"y":422},{"x":521,"x2":545,"y":440},{"x":521,"x2":545,"y":459},
{"x":1082,"x2":1105,"y":48},{"x":1082,"x2":1105,"y":69},{"x":1082,"x2":1105,"y":89},{"x":1082,"x2":1105,"y":110},{"x":1082,"x2":1105,"y":131},{"x":1082,"x2":1105,"y":152},{"x":1082,"x2":1105,"y":173},{"x":1082,"x2":1105,"y":194},{"x":1082,"x2":1105,"y":214},
{"x":1080,"x2":1103,"y":298},{"x":1080,"x2":1103,"y":319},{"x":1080,"x2":1103,"y":340},{"x":1080,"x2":1103,"y":360},{"x":1080,"x2":1103,"y":381},{"x":1080,"x2":1103,"y":403},{"x":1080,"x2":1103,"y":424},{"x":1080,"x2":1103,"y":444},{"x":1080,"x2":1103,"y":465}],
"blocks":[{"x":34,"x2":210,"y":169.5,"y2":236.5},{"x":298,"x2":476,"y":170,"y2":236},{"x":651,"x2":816,"y":166,"y2":235},{"x":897,"x2":1063,"y":166,"y2":235}],
"plates":[{"x":32,"x2":476,"y":36.5},{"x":650,"x2":1064,"y":29}],
"labels":[{"x":549,"y":39,"t":"10"},{"x":549,"y":62,"t":"9.0"},{"x":549,"y":87,"t":"8.0"},{"x":549,"y":105,"t":"7.0"},{"x":549,"y":129,"t":"6.0"},{"x":549,"y":149,"t":"5.0"},{"x":549,"y":169,"t":"4.0"},{"x":549,"y":190,"t":"3.0"},{"x":549,"y":211,"t":"2.0"},{"x":549,"y":231,"t":"1.0"},{"x":517,"y":21,"t":"V"},
{"x":558,"y":299,"t":"10"},{"x":558,"y":319,"t":"9.0"},{"x":558,"y":340,"t":"8.0"},{"x":558,"y":357,"t":"7.0"},{"x":558,"y":377,"t":"6.0"},{"x":558,"y":396,"t":"5.0"},{"x":558,"y":414,"t":"4.0"},{"x":558,"y":432,"t":"3.0"},{"x":558,"y":450,"t":"2.0"},{"x":558,"y":467,"t":"1.0"},{"x":526,"y":276,"t":"V"},
{"x":1117,"y":29,"t":"0.5"},{"x":1117,"y":70,"t":"0.4"},{"x":1117,"y":109,"t":"0.3"},{"x":1117,"y":153,"t":"0.2"},{"x":1117,"y":191,"t":"0.1"},
{"x":1113,"y":279,"t":"0.5"},{"x":1113,"y":318,"t":"0.4"},{"x":1113,"y":361,"t":"0.3"},{"x":1113,"y":404,"t":"0.2"},{"x":1113,"y":443,"t":"0.1"}],
"titles":[{"x":1027,"y":12,"t":"E (10⁶ V/m)"},{"x":1028,"y":262,"t":"E (10⁶ V/m)"}],
"su8":[{"x":88,"y":203,"t":"SU8"},{"x":339,"y":204,"t":"SU8"},{"x":710,"y":203,"t":"SU8"},{"x":952,"y":203,"t":"SU8"}],
"letters":[{"x":10,"y":225,"t":"a"},{"x":10,"y":462,"t":"b"},{"x":617,"y":227,"t":"c"},{"x":623,"y":466,"t":"d"}]
},
"encoding":{"x":{"field":"x","type":"quantitative","axis":null,"scale":{"domain":[0,1144],"nice":false,"zero":false}},"y":{"field":"y","type":"quantitative","axis":null,"scale":{"domain":[486,0],"nice":false,"zero":false}}},
"layer":[
{"data":{"name":"a"},"mark":{"type":"area","interpolate":"catmull-rom","orient":"vertical","strokeWidth":7,"strokeOpacity":0.45},"encoding":{"y2":{"datum":237},"detail":{"field":"v"},"color":{"field":"v","type":"quantitative","legend":null,"scale":{"domain":[0.44,2,3.01,3.6,5.09,6.08,6.77,7.86,8.65,9.44,10.33],"range":["#2e2a85","#2a3f98","#3a78b8","#2fb4e6","#5fb88c","#b5cb3c","#fde000","#f58220","#e8202a","#d80a1a","#8a0f0a"]}},"stroke":{"field":"v","type":"quantitative","legend":null,"scale":{"domain":[0.44,2,3.01,3.6,5.09,6.08,6.77,7.86,8.65,9.44,10.33],"range":["#2e2a85","#2a3f98","#3a78b8","#2fb4e6","#5fb88c","#b5cb3c","#fde000","#f58220","#e8202a","#d80a1a","#8a0f0a"]}}}},
{"data":{"name":"b"},"mark":{"type":"area","interpolate":"catmull-rom","orient":"vertical","strokeWidth":7,"strokeOpacity":0.45},"encoding":{"y2":{"datum":475},"detail":{"field":"v"},"color":{"field":"v","type":"quantitative","legend":null,"scale":{"domain":[0.44,2,3.01,3.6,5.09,6.08,6.77,7.86,8.65,9.44,10.33],"range":["#2e2a85","#2a3f98","#3a78b8","#2fb4e6","#5fb88c","#b5cb3c","#fde000","#f58220","#e8202a","#d80a1a","#8a0f0a"]}},"stroke":{"field":"v","type":"quantitative","legend":null,"scale":{"domain":[0.44,2,3.01,3.6,5.09,6.08,6.77,7.86,8.65,9.44,10.33],"range":["#2e2a85","#2a3f98","#3a78b8","#2fb4e6","#5fb88c","#b5cb3c","#fde000","#f58220","#e8202a","#d80a1a","#8a0f0a"]}}}},
{"data":{"name":"c"},"mark":{"type":"area","interpolate":"catmull-rom","orient":"vertical","strokeWidth":7,"strokeOpacity":0.45},"encoding":{"y2":{"datum":235},"detail":{"field":"v"},"color":{"field":"v","type":"quantitative","legend":null,"scale":{"domain":[-0.008,0.072,0.126,0.157,0.234,0.286,0.322,0.379,0.42,0.462,0.508],"range":["#2e2a85","#2a3f98","#3a78b8","#2fb4e6","#5fb88c","#b5cb3c","#fde000","#f58220","#e8202a","#d80a1a","#8a0f0a"]}},"stroke":{"field":"v","type":"quantitative","legend":null,"scale":{"domain":[-0.008,0.072,0.126,0.157,0.234,0.286,0.322,0.379,0.42,0.462,0.508],"range":["#2e2a85","#2a3f98","#3a78b8","#2fb4e6","#5fb88c","#b5cb3c","#fde000","#f58220","#e8202a","#d80a1a","#8a0f0a"]}}}},
{"data":{"name":"d"},"mark":{"type":"area","interpolate":"catmull-rom","orient":"vertical","strokeWidth":7,"strokeOpacity":0.45},"encoding":{"y2":{"datum":486},"detail":{"field":"v"},"color":{"field":"v","type":"quantitative","legend":null,"scale":{"domain":[-0.008,0.072,0.126,0.157,0.234,0.286,0.322,0.379,0.42,0.462,0.508],"range":["#2e2a85","#2a3f98","#3a78b8","#2fb4e6","#5fb88c","#b5cb3c","#fde000","#f58220","#e8202a","#d80a1a","#8a0f0a"]}},"stroke":{"field":"v","type":"quantitative","legend":null,"scale":{"domain":[-0.008,0.072,0.126,0.157,0.234,0.286,0.322,0.379,0.42,0.462,0.508],"range":["#2e2a85","#2a3f98","#3a78b8","#2fb4e6","#5fb88c","#b5cb3c","#fde000","#f58220","#e8202a","#d80a1a","#8a0f0a"]}}}},
{"data":{"name":"mask"},"mark":{"type":"rect","fill":"#ffffff"},"encoding":{"x2":{"field":"x2"},"y2":{"field":"y2"}}},
{"data":{"name":"hot"},"mark":{"type":"point","filled":true,"opacity":1,"shape":"circle"},"encoding":{"size":{"field":"s","type":"quantitative","scale":null},"color":{"field":"v","type":"quantitative","legend":null,"scale":{"domain":[-0.008,0.072,0.126,0.157,0.234,0.286,0.322,0.379,0.42,0.462,0.508],"range":["#2e2a85","#2a3f98","#3a78b8","#2fb4e6","#5fb88c","#b5cb3c","#fde000","#f58220","#e8202a","#d80a1a","#8a0f0a"]}}}},
{"data":{"name":"lines"},"mark":{"type":"line","interpolate":"catmull-rom","strokeWidth":0.7,"opacity":0.75},"encoding":{"detail":{"field":"id"},"stroke":{"field":"k","type":"nominal","legend":null,"scale":{"domain":["c","q","g","p"],"range":["#62b8e6","#6a9fd2","#7d90b4","#a35cb4"]}}}},
{"data":{"name":"blocks"},"mark":{"type":"rect","fill":"#9b9b9b","stroke":"#111111","strokeWidth":2},"encoding":{"x2":{"field":"x2"},"y2":{"field":"y2"}}},
{"data":{"name":"plates"},"mark":{"type":"rule","stroke":"#000000","strokeWidth":3},"encoding":{"x2":{"field":"x2"}}},
{"data":{"name":"barV"},"mark":{"type":"rect"},"encoding":{"x2":{"field":"x2"},"y2":{"field":"y2"},"color":{"field":"v","type":"quantitative","legend":null,"scale":{"domain":[0.44,2,3.01,3.6,5.09,6.08,6.77,7.86,8.65,9.44,10.33],"range":["#2e2a85","#2a3f98","#3a78b8","#2fb4e6","#5fb88c","#b5cb3c","#fde000","#f58220","#e8202a","#d80a1a","#8a0f0a"]}}}},
{"data":{"name":"barE"},"mark":{"type":"rect"},"encoding":{"x2":{"field":"x2"},"y2":{"field":"y2"},"color":{"field":"v","type":"quantitative","legend":null,"scale":{"domain":[-0.008,0.072,0.126,0.157,0.234,0.286,0.322,0.379,0.42,0.462,0.508],"range":["#2e2a85","#2a3f98","#3a78b8","#2fb4e6","#5fb88c","#b5cb3c","#fde000","#f58220","#e8202a","#d80a1a","#8a0f0a"]}}}},
{"data":{"name":"ticks"},"mark":{"type":"rule","stroke":"#222222","strokeWidth":0.8,"opacity":0.6,"strokeDash":[5,14,5]},"encoding":{"x2":{"field":"x2"}}},
{"data":{"name":"labels"},"mark":{"type":"text","font":"Liberation Sans","fontSize":16.5,"align":"left","baseline":"middle","fill":"#1a1a1a"},"encoding":{"text":{"field":"t"}}},
{"data":{"name":"titles"},"mark":{"type":"text","font":"Liberation Sans","fontSize":14,"align":"left","baseline":"middle","fill":"#1a1a1a"},"encoding":{"text":{"field":"t"}}},
{"data":{"name":"su8"},"mark":{"type":"text","font":"Liberation Sans","fontSize":21,"align":"left","baseline":"middle","fill":"#1a1a1a"},"encoding":{"text":{"field":"t"}}},
{"data":{"name":"letters"},"mark":{"type":"text","font":"Liberation Sans","fontSize":26,"fontWeight":"bold","align":"left","baseline":"middle","fill":"#000000"},"encoding":{"text":{"field":"t"}}}
]}
